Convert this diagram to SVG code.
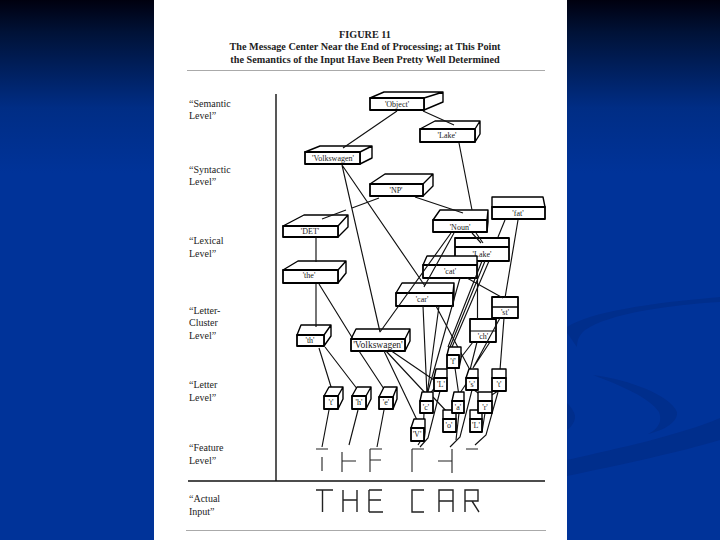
<svg xmlns="http://www.w3.org/2000/svg" width="720" height="540" viewBox="0 0 720 540">
<defs>
<linearGradient id="bg" x1="0" y1="0" x2="0" y2="1"><stop offset="0" stop-color="#00000f"/><stop offset="0.06" stop-color="#001237"/><stop offset="0.2" stop-color="#002d85"/><stop offset="0.32" stop-color="#003399"/><stop offset="1" stop-color="#003399"/></linearGradient>
</defs>
<style>
.f{fill:#fff;stroke:#000;stroke-width:1.8;stroke-linejoin:round}
.t{fill:#fff;stroke:#000;stroke-width:1.4;stroke-linejoin:round}
.c{stroke:#111;stroke-width:1.15;fill:none}
.s{stroke:#222;stroke-width:1.4;fill:none}
.l{font-family:"Liberation Serif",serif;font-size:8px;fill:#222;text-anchor:middle}
.b{font-family:"Liberation Serif",serif;fill:#222}
.h{font-size:10.200px;font-weight:bold;text-anchor:middle}
.v{font-size:10px}
</style>
<rect width="720" height="540" fill="url(#bg)"/>
<g fill="#002e8c">
<path d="M567 327C590 312 650 303 720 297V302C670 305 610 313 585 330C578 336 577 342 577 347C572 340 569 335 567 333Z"/>
<path d="M593 375C630 380 670 395 677 412C678 422 665 430 648 434C660 428 662 420 659 412C650 398 620 385 593 375Z"/>
<path d="M567 460C620 448 680 435 720 418V440C680 452 620 465 567 476Z"/>
<path d="M567 403C572 408 575 413 575 417C575 422 571 427 567 430Z"/>
</g>
<rect x="154" width="413" height="540" fill="#fff"/>
<g id="page-text" class="b">
<text class="b h" x="365" y="38">FIGURE 11</text>
<text class="b h" x="365" y="50">The Message Center Near the End of Processing; at This Point</text>
<text class="b h" x="365" y="63">the Semantics of the Input Have Been Pretty Well Determined</text>
<text class="b v" x="189" y="107">“Semantic</text><text class="b v" x="189" y="119">Level”</text>
<text class="b v" x="189" y="173">“Syntactic</text><text class="b v" x="189" y="185">Level”</text>
<text class="b v" x="189" y="244">“Lexical</text><text class="b v" x="189" y="257">Level”</text>
<text class="b v" x="189" y="314">“Letter-</text><text class="b v" x="189" y="326">Cluster</text><text class="b v" x="189" y="339">Level”</text>
<text class="b v" x="189" y="388">“Letter</text><text class="b v" x="189" y="401">Level”</text>
<text class="b v" x="189" y="451">“Feature</text><text class="b v" x="189" y="464">Level”</text>
<text class="b v" x="189" y="502">“Actual</text><text class="b v" x="189" y="515">Input”</text>
</g>
<g id="frame">
<path d="M187 70.500H545M186 530.500H546" stroke="#aaa" fill="none"/>
<path d="M276 94V481" stroke="#111" stroke-width="1.400"/>
<path d="M188 481H545" stroke="#111" stroke-width="1.600"/>
</g>
<g id="n-object"><path class="t" d="M370 98L384 92H443V102L424 110V98ZM424 98L443 92"/><rect class="f" x="370" y="98" width="54" height="12"/><text class="l" x="397" y="107">'Object'</text></g>
<g id="n-lake"><path class="t" d="M420 129L435 121H480V134L475 142V129ZM475 129L480 121"/><rect class="f" x="420" y="129" width="55" height="13"/><text class="l" x="447" y="138">'Lake'</text></g>
<g id="n-vw"><path class="t" d="M305 152L320 146H372V158L360 164V152ZM360 152L372 146"/><rect class="f" x="305" y="152" width="55" height="12"/><text class="l" x="333" y="161">'Volkswagen'</text></g>
<g id="n-np"><path class="t" d="M370 184L385 174H433V186L423 196V184ZM423 184L433 174"/><rect class="f" x="370" y="184" width="53" height="12"/><text class="l" x="396" y="193">'NP'</text></g>
<g id="n-det"><path class="t" d="M283 226L304 215H348V227L338 237V226ZM338 226L348 215"/><rect class="f" x="283" y="226" width="55" height="11"/><text class="l" x="310" y="234">'DET'</text></g>
<g id="n-noun"><path class="t" d="M433 220L440 210H488V222L487 232V220ZM487 220L488 210"/><rect class="f" x="433" y="220" width="54" height="12"/><text class="l" x="460" y="230">'Noun'</text></g>
<g id="n-fat"><path class="t" d="M492 207V197H543L545 207Z"/><rect class="f" x="492" y="207" width="53" height="12"/><text class="l" x="518" y="216">'fat'</text></g>
<g id="n-lake2"><rect class="f" x="455" y="238" width="54" height="23"/><path d="M455 247H509" stroke="#000" stroke-width="2"/><text class="l" x="482" y="257">'Lake'</text></g>
<g id="n-cat"><path class="t" d="M423 265L427 256H477V265Z"/><rect class="f" x="423" y="265" width="54" height="13"/><text class="l" x="450" y="274">'cat'</text></g>
<g id="n-the"><path class="t" d="M283 270L298 261H346V273L338 283V270ZM338 270L346 261"/><rect class="f" x="283" y="270" width="55" height="13"/><text class="l" x="309" y="278">'the'</text></g>
<g id="n-car"><path class="t" d="M396 293L402 283H454V296L453 306V293ZM453 293L454 283"/><rect class="f" x="396" y="293" width="57" height="13"/><text class="l" x="422" y="302">'car'</text></g>
<g id="n-st"><rect class="f" x="492" y="297" width="26" height="21"/><path d="M492 307H518" stroke="#000" stroke-width="1.500"/><text class="l" x="505" y="315">'st'</text></g>
<g id="n-ch"><rect class="f" x="470" y="319" width="26" height="23"/><path d="M470 331H496" stroke="#000" stroke-width="1"/><text class="l" x="483" y="339">'ch'</text></g>
<g id="n-th"><path class="t" d="M297 335L301 325H331V336L324 346V335ZM324 335L331 325"/><rect class="f" x="297" y="335" width="27" height="11"/><text class="l" x="310" y="343">'th'</text></g>
<g id="n-vw2"><path class="t" d="M351 339L356 329H410V341L405 351V339ZM405 339L410 329"/><rect class="f" x="351" y="339" width="54" height="12"/><text x="378" y="348" class="l" style="font-size:9.500px">'Volkswagen'</text></g>
<g id="connectors" class="c">
<path d="M397 111L343 148M423 111L454 125M459 143L472 210"/>
<path d="M342 165L380 332M342 165L425 286M380 332L451 233M424 287L454 233"/>
<path d="M379 198L352 208M346 210L322 219M415 197L463 213"/>
<path d="M316 237V262M316 284V327M319 284L353 339M359 351L386 392"/>
<path d="M472 233L481 243M476 233L483 243"/>
<path d="M505 220L498 237M489 261L452 347M518 220L505 298M467 278L503 298"/>
<path d="M460 278L427 395M482 261L448 347M485 261L450 347M477.500 261V319"/>
<path d="M423 306L427 395M439 306L427 395M436 306L470 370"/>
<path d="M384 351L417 420M386 351L428 396M390 350L434 380"/>
<path d="M473 342L459 360M477 342L470 370M490 342L473 368M500 318L473 368M504 318L500 370"/>
<path d="M319 348L332 390M325 347L358 390"/>
<path d="M329 410L322 447M358 410L349 445M384 410L377 447"/>
<path d="M424 413L423 437L418 445M440 391L428 438L420 447M472 390L460 437L450 447M498 392L486 435L475 445"/>
<path d="M455 368L459 396M440 381L428 396M466 384L458 396M474 390L485 398M498 391L487 398M433 397L449 414M459 413L456 440M485 413L482 432"/>
</g>
<g id="l-t"><path class="t" d="M324 396L329 387H343V399L338 409V396ZM338 396L343 387"/><rect class="f" x="324" y="396" width="14" height="13"/><text class="l" x="331" y="405">'t'</text></g>
<g id="l-h"><path class="t" d="M352 396L357 387H371V399L366 409V396ZM366 396L371 387"/><rect class="f" x="352" y="396" width="14" height="13"/><text class="l" x="359" y="405">'h'</text></g>
<g id="l-e"><path class="t" d="M379 397L384 387H397V399L393 409V397ZM393 397L397 387"/><rect class="f" x="379" y="397" width="14" height="12"/><text class="l" x="386" y="405">'e'</text></g>
<g id="l-f"><path class="t" d="M447 355L449 347H461V358L459 368V355Z"/><rect class="f" x="447" y="355" width="12" height="13"/><text class="l" x="453" y="364">'f'</text></g>
<g id="l-o"><path class="t" d="M443 419V410H456V419Z"/><rect class="f" x="443" y="419" width="13" height="13"/><text class="l" x="449" y="428">'o'</text></g>
<g id="l-L2"><path class="t" d="M470 419V410H482V419Z"/><rect class="f" x="470" y="419" width="12" height="13"/><text class="l" x="476" y="428">'L'</text></g>
<g id="l-V"><path class="t" d="M411 428L414 419H425V432L424 441V428Z"/><rect class="f" x="411" y="428" width="13" height="13"/><text class="l" x="417" y="437">'V'</text></g>
<g id="l-L"><path class="t" d="M434 378L436 369H447V378Z"/><rect class="f" x="434" y="378" width="13" height="13"/><text class="l" x="441" y="387">'L'</text></g>
<g id="l-s"><path class="t" d="M466 378L469 369H478V378Z"/><rect class="f" x="466" y="378" width="12" height="12"/><text class="l" x="472" y="387">'s'</text></g>
<g id="l-t2"><path class="t" d="M492 378V369H506V378Z"/><rect class="f" x="492" y="378" width="14" height="13"/><text class="l" x="499" y="387">'t'</text></g>
<g id="l-c"><path class="t" d="M420 401L422 392H433V401Z"/><rect class="f" x="420" y="401" width="13" height="12"/><text class="l" x="426" y="410">'c'</text></g>
<g id="l-a"><path class="t" d="M452 401L454 392H464V401Z"/><rect class="f" x="452" y="401" width="12" height="12"/><text class="l" x="458" y="410">'a'</text></g>
<g id="l-r"><path class="t" d="M478 401V392H492V401Z"/><rect class="f" x="478" y="401" width="14" height="12"/><text class="l" x="485" y="410">'r'</text></g>
<g id="features" stroke="#222" stroke-width="1.100" fill="none">
<path d="M316 449H328M322 457V471M342 452V472M342 461H356M370 449V472M370 449H382M370 460H381M412 449V472M412 449H424M452 449V473M438 461H452M466 449H478"/>
</g>
<g id="input" class="s">
<path d="M316 490H333M322.500 490V512M343 490V512M357 490V512M343 500H357M369 490V512M369 490H382M369 500H381M369 512H383M424 490H412V512H424M439 512V490H453V512M439 501H453M465 512V490H478V501H465M472 501L479 512"/>
</g>
</svg>
